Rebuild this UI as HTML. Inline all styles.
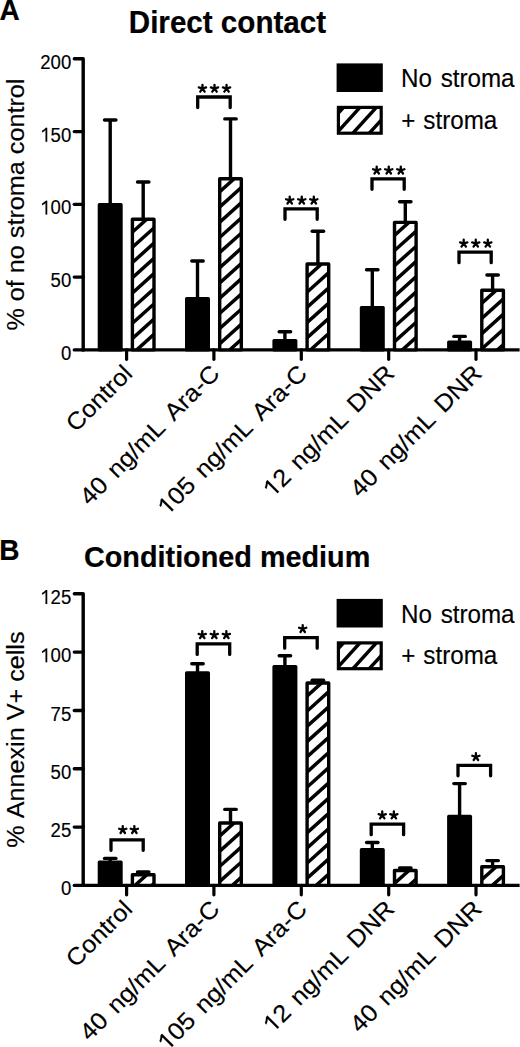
<!DOCTYPE html>
<html><head><meta charset="utf-8"><style>
html,body{margin:0;padding:0;background:#fff;width:520px;height:1047px;overflow:hidden}
svg{display:block}
text{font-family:"Liberation Sans",sans-serif;font-kerning:none;white-space:pre}
.t{stroke:#000;stroke-width:0.15px}
.tb{stroke:#000;stroke-width:0.2px}
</style></head><body>
<svg width="520" height="1047" viewBox="0 0 520 1047" fill="#000">
<rect width="520" height="1047" fill="#fff"/>
<text class="tb" x="-0.4" y="19.6" font-size="28" font-weight="bold" transform="translate(0 19.6) scale(1 1.05) translate(0 -19.6)">A</text>
<text class="tb" x="-0.7" y="559.8" font-size="28" font-weight="bold" transform="translate(0 559.8) scale(1 1.04) translate(0 -559.8)">B</text>
<text class="tb" x="128.8" y="32.7" font-size="29.6" font-weight="bold" transform="translate(0 32.7) scale(1 1.03) translate(0 -32.7)">Direct contact</text>
<text class="tb" x="84.0" y="567.3" font-size="28.8" font-weight="bold" transform="translate(0 567.3) scale(1 1.05) translate(0 -567.3)">Conditioned medium</text>
<g stroke="#000" fill="none" stroke-width="3.2">
<path d="M74.3,58.80 L83.2,58.80 L83.2,349.90" stroke-width="3.4" stroke-linejoin="round" stroke-linecap="round"/>
<line x1="81.6" y1="349.90" x2="519.6" y2="349.90" stroke-width="3.4"/>
<line x1="74.3" y1="349.90" x2="83.2" y2="349.90" stroke-width="3.4" stroke-linecap="round"/>
<line x1="74.3" y1="277.12" x2="83.2" y2="277.12" stroke-width="3.4" stroke-linecap="round"/>
<line x1="74.3" y1="204.35" x2="83.2" y2="204.35" stroke-width="3.4" stroke-linecap="round"/>
<line x1="74.3" y1="131.58" x2="83.2" y2="131.58" stroke-width="3.4" stroke-linecap="round"/>
<line x1="126.60" y1="349.90" x2="126.60" y2="359.30" stroke-width="3.2" stroke-linecap="round"/>
<line x1="213.90" y1="349.90" x2="213.90" y2="359.30" stroke-width="3.2" stroke-linecap="round"/>
<line x1="301.30" y1="349.90" x2="301.30" y2="359.30" stroke-width="3.2" stroke-linecap="round"/>
<line x1="388.70" y1="349.90" x2="388.70" y2="359.30" stroke-width="3.2" stroke-linecap="round"/>
<line x1="476.00" y1="349.90" x2="476.00" y2="359.30" stroke-width="3.2" stroke-linecap="round"/>
</g>
<g transform="translate(0 360.00) scale(1 1.08) translate(0 -360.00)"><text x="60.96" y="360.00" font-size="18.6" class="t">0</text></g>
<g transform="translate(0 287.23) scale(1 1.08) translate(0 -287.23)"><text x="50.61" y="287.23" font-size="18.6" class="t">50</text></g>
<g transform="translate(0 214.45) scale(1 1.08) translate(0 -214.45)"><text x="40.27" y="214.45" font-size="18.6" class="t"> 00</text><path d="M583,0 L583,1180 C520,1118 420,1050 300,990 C260,970 225,957 197,948 L197,1110 C330,1170 430,1240 510,1320 C560,1368 595,1400 615,1409 L763,1409 L763,0 Z" transform="translate(40.27 214.45) scale(0.00908 -0.00908)" stroke="#000" stroke-width="16.516"/></g>
<g transform="translate(0 141.68) scale(1 1.08) translate(0 -141.68)"><text x="40.27" y="141.68" font-size="18.6" class="t"> 50</text><path d="M583,0 L583,1180 C520,1118 420,1050 300,990 C260,970 225,957 197,948 L197,1110 C330,1170 430,1240 510,1320 C560,1368 595,1400 615,1409 L763,1409 L763,0 Z" transform="translate(40.27 141.68) scale(0.00908 -0.00908)" stroke="#000" stroke-width="16.516"/></g>
<g transform="translate(0 68.90) scale(1 1.08) translate(0 -68.90)"><text x="40.27" y="68.90" font-size="18.6" class="t">200</text></g>
<g stroke="#000" stroke-width="3.4" stroke-linecap="round" fill="none">
<line x1="110.20" y1="204.10" x2="110.20" y2="120.00" stroke-linecap="butt"/>
<line x1="104.50" y1="120.00" x2="115.90" y2="120.00"/>
<line x1="143.20" y1="218.50" x2="143.20" y2="182.00" stroke-linecap="butt"/>
<line x1="137.50" y1="182.00" x2="148.90" y2="182.00"/>
</g>
<rect x="99.30" y="204.70" width="21.80" height="145.20" fill="#000" stroke="#000" stroke-width="3.2" stroke-linejoin="round"/>
<rect x="132.30" y="219.10" width="21.80" height="130.80" fill="#fff"/>
<clipPath id="ca0"><rect x="132.30" y="219.10" width="21.80" height="130.80"/></clipPath><g clip-path="url(#ca0)" stroke="#000" stroke-width="3.5" fill="none"><line x1="129.30" y1="189.34" x2="157.10" y2="164.32"/><line x1="129.30" y1="204.54" x2="157.10" y2="179.52"/><line x1="129.30" y1="219.74" x2="157.10" y2="194.72"/><line x1="129.30" y1="234.94" x2="157.10" y2="209.92"/><line x1="129.30" y1="250.14" x2="157.10" y2="225.12"/><line x1="129.30" y1="265.34" x2="157.10" y2="240.32"/><line x1="129.30" y1="280.54" x2="157.10" y2="255.52"/><line x1="129.30" y1="295.74" x2="157.10" y2="270.72"/><line x1="129.30" y1="310.94" x2="157.10" y2="285.92"/><line x1="129.30" y1="326.14" x2="157.10" y2="301.12"/><line x1="129.30" y1="341.34" x2="157.10" y2="316.32"/><line x1="129.30" y1="356.54" x2="157.10" y2="331.52"/><line x1="129.30" y1="371.74" x2="157.10" y2="346.72"/></g>
<rect x="132.40" y="219.20" width="21.60" height="130.70" fill="none" stroke="#000" stroke-width="3.4" stroke-linejoin="round"/>
<g stroke="#000" stroke-width="3.4" stroke-linecap="round" fill="none">
<line x1="197.50" y1="298.10" x2="197.50" y2="261.00" stroke-linecap="butt"/>
<line x1="191.80" y1="261.00" x2="203.20" y2="261.00"/>
<line x1="230.50" y1="178.10" x2="230.50" y2="118.90" stroke-linecap="butt"/>
<line x1="224.80" y1="118.90" x2="236.20" y2="118.90"/>
</g>
<rect x="186.60" y="298.70" width="21.80" height="51.20" fill="#000" stroke="#000" stroke-width="3.2" stroke-linejoin="round"/>
<rect x="219.60" y="178.70" width="21.80" height="171.20" fill="#fff"/>
<clipPath id="ca1"><rect x="219.60" y="178.70" width="21.80" height="171.20"/></clipPath><g clip-path="url(#ca1)" stroke="#000" stroke-width="3.5" fill="none"><line x1="216.60" y1="148.94" x2="244.40" y2="123.92"/><line x1="216.60" y1="164.14" x2="244.40" y2="139.12"/><line x1="216.60" y1="179.34" x2="244.40" y2="154.32"/><line x1="216.60" y1="194.54" x2="244.40" y2="169.52"/><line x1="216.60" y1="209.74" x2="244.40" y2="184.72"/><line x1="216.60" y1="224.94" x2="244.40" y2="199.92"/><line x1="216.60" y1="240.14" x2="244.40" y2="215.12"/><line x1="216.60" y1="255.34" x2="244.40" y2="230.32"/><line x1="216.60" y1="270.54" x2="244.40" y2="245.52"/><line x1="216.60" y1="285.74" x2="244.40" y2="260.72"/><line x1="216.60" y1="300.94" x2="244.40" y2="275.92"/><line x1="216.60" y1="316.14" x2="244.40" y2="291.12"/><line x1="216.60" y1="331.34" x2="244.40" y2="306.32"/><line x1="216.60" y1="346.54" x2="244.40" y2="321.52"/><line x1="216.60" y1="361.74" x2="244.40" y2="336.72"/><line x1="216.60" y1="376.94" x2="244.40" y2="351.92"/></g>
<rect x="219.70" y="178.80" width="21.60" height="171.10" fill="none" stroke="#000" stroke-width="3.4" stroke-linejoin="round"/>
<g stroke="#000" stroke-width="3.4" stroke-linecap="round" fill="none">
<line x1="284.90" y1="339.90" x2="284.90" y2="331.70" stroke-linecap="butt"/>
<line x1="279.20" y1="331.70" x2="290.60" y2="331.70"/>
<line x1="317.90" y1="263.30" x2="317.90" y2="231.20" stroke-linecap="butt"/>
<line x1="312.20" y1="231.20" x2="323.60" y2="231.20"/>
</g>
<rect x="274.00" y="340.50" width="21.80" height="9.40" fill="#000" stroke="#000" stroke-width="3.2" stroke-linejoin="round"/>
<rect x="307.00" y="263.90" width="21.80" height="86.00" fill="#fff"/>
<clipPath id="ca2"><rect x="307.00" y="263.90" width="21.80" height="86.00"/></clipPath><g clip-path="url(#ca2)" stroke="#000" stroke-width="3.5" fill="none"><line x1="304.00" y1="234.14" x2="331.80" y2="209.12"/><line x1="304.00" y1="249.34" x2="331.80" y2="224.32"/><line x1="304.00" y1="264.54" x2="331.80" y2="239.52"/><line x1="304.00" y1="279.74" x2="331.80" y2="254.72"/><line x1="304.00" y1="294.94" x2="331.80" y2="269.92"/><line x1="304.00" y1="310.14" x2="331.80" y2="285.12"/><line x1="304.00" y1="325.34" x2="331.80" y2="300.32"/><line x1="304.00" y1="340.54" x2="331.80" y2="315.52"/><line x1="304.00" y1="355.74" x2="331.80" y2="330.72"/><line x1="304.00" y1="370.94" x2="331.80" y2="345.92"/></g>
<rect x="307.10" y="264.00" width="21.60" height="85.90" fill="none" stroke="#000" stroke-width="3.4" stroke-linejoin="round"/>
<g stroke="#000" stroke-width="3.4" stroke-linecap="round" fill="none">
<line x1="372.30" y1="306.90" x2="372.30" y2="269.70" stroke-linecap="butt"/>
<line x1="366.60" y1="269.70" x2="378.00" y2="269.70"/>
<line x1="405.30" y1="221.70" x2="405.30" y2="201.70" stroke-linecap="butt"/>
<line x1="399.60" y1="201.70" x2="411.00" y2="201.70"/>
</g>
<rect x="361.40" y="307.50" width="21.80" height="42.40" fill="#000" stroke="#000" stroke-width="3.2" stroke-linejoin="round"/>
<rect x="394.40" y="222.30" width="21.80" height="127.60" fill="#fff"/>
<clipPath id="ca3"><rect x="394.40" y="222.30" width="21.80" height="127.60"/></clipPath><g clip-path="url(#ca3)" stroke="#000" stroke-width="3.5" fill="none"><line x1="391.40" y1="192.54" x2="419.20" y2="167.52"/><line x1="391.40" y1="207.74" x2="419.20" y2="182.72"/><line x1="391.40" y1="222.94" x2="419.20" y2="197.92"/><line x1="391.40" y1="238.14" x2="419.20" y2="213.12"/><line x1="391.40" y1="253.34" x2="419.20" y2="228.32"/><line x1="391.40" y1="268.54" x2="419.20" y2="243.52"/><line x1="391.40" y1="283.74" x2="419.20" y2="258.72"/><line x1="391.40" y1="298.94" x2="419.20" y2="273.92"/><line x1="391.40" y1="314.14" x2="419.20" y2="289.12"/><line x1="391.40" y1="329.34" x2="419.20" y2="304.32"/><line x1="391.40" y1="344.54" x2="419.20" y2="319.52"/><line x1="391.40" y1="359.74" x2="419.20" y2="334.72"/><line x1="391.40" y1="374.94" x2="419.20" y2="349.92"/></g>
<rect x="394.50" y="222.40" width="21.60" height="127.50" fill="none" stroke="#000" stroke-width="3.4" stroke-linejoin="round"/>
<g stroke="#000" stroke-width="3.4" stroke-linecap="round" fill="none">
<line x1="459.60" y1="341.40" x2="459.60" y2="336.40" stroke-linecap="butt"/>
<line x1="453.90" y1="336.40" x2="465.30" y2="336.40"/>
<line x1="492.60" y1="289.60" x2="492.60" y2="275.00" stroke-linecap="butt"/>
<line x1="486.90" y1="275.00" x2="498.30" y2="275.00"/>
</g>
<rect x="448.70" y="342.00" width="21.80" height="7.90" fill="#000" stroke="#000" stroke-width="3.2" stroke-linejoin="round"/>
<rect x="481.70" y="290.20" width="21.80" height="59.70" fill="#fff"/>
<clipPath id="ca4"><rect x="481.70" y="290.20" width="21.80" height="59.70"/></clipPath><g clip-path="url(#ca4)" stroke="#000" stroke-width="3.5" fill="none"><line x1="478.70" y1="260.44" x2="506.50" y2="235.42"/><line x1="478.70" y1="275.64" x2="506.50" y2="250.62"/><line x1="478.70" y1="290.84" x2="506.50" y2="265.82"/><line x1="478.70" y1="306.04" x2="506.50" y2="281.02"/><line x1="478.70" y1="321.24" x2="506.50" y2="296.22"/><line x1="478.70" y1="336.44" x2="506.50" y2="311.42"/><line x1="478.70" y1="351.64" x2="506.50" y2="326.62"/><line x1="478.70" y1="366.84" x2="506.50" y2="341.82"/></g>
<rect x="481.80" y="290.30" width="21.60" height="59.60" fill="none" stroke="#000" stroke-width="3.4" stroke-linejoin="round"/>
<path d="M197.70,107.50 L197.70,97.00 L230.20,97.00 L230.20,107.50" fill="none" stroke="#000" stroke-width="3.3" stroke-linecap="round" stroke-linejoin="miter"/>
<path d="M202.45,88.60L202.45,84.80M202.45,88.60L198.84,87.43M202.45,88.60L200.22,91.67M202.45,88.60L204.68,91.67M202.45,88.60L206.06,87.43" stroke="#000" stroke-width="2.3" stroke-linecap="round" fill="none"/>
<path d="M214.50,88.60L214.50,84.80M214.50,88.60L210.89,87.43M214.50,88.60L212.27,91.67M214.50,88.60L216.73,91.67M214.50,88.60L218.11,87.43" stroke="#000" stroke-width="2.3" stroke-linecap="round" fill="none"/>
<path d="M226.55,88.60L226.55,84.80M226.55,88.60L222.94,87.43M226.55,88.60L224.32,91.67M226.55,88.60L228.78,91.67M226.55,88.60L230.16,87.43" stroke="#000" stroke-width="2.3" stroke-linecap="round" fill="none"/>
<path d="M285.00,219.30 L285.00,208.80 L317.20,208.80 L317.20,219.30" fill="none" stroke="#000" stroke-width="3.3" stroke-linecap="round" stroke-linejoin="miter"/>
<path d="M289.70,200.40L289.70,196.60M289.70,200.40L286.09,199.23M289.70,200.40L287.47,203.47M289.70,200.40L291.93,203.47M289.70,200.40L293.31,199.23" stroke="#000" stroke-width="2.3" stroke-linecap="round" fill="none"/>
<path d="M301.75,200.40L301.75,196.60M301.75,200.40L298.14,199.23M301.75,200.40L299.52,203.47M301.75,200.40L303.98,203.47M301.75,200.40L305.36,199.23" stroke="#000" stroke-width="2.3" stroke-linecap="round" fill="none"/>
<path d="M313.80,200.40L313.80,196.60M313.80,200.40L310.19,199.23M313.80,200.40L311.57,203.47M313.80,200.40L316.03,203.47M313.80,200.40L317.41,199.23" stroke="#000" stroke-width="2.3" stroke-linecap="round" fill="none"/>
<path d="M372.00,189.30 L372.00,178.80 L404.20,178.80 L404.20,189.30" fill="none" stroke="#000" stroke-width="3.3" stroke-linecap="round" stroke-linejoin="miter"/>
<path d="M376.70,170.40L376.70,166.60M376.70,170.40L373.09,169.23M376.70,170.40L374.47,173.47M376.70,170.40L378.93,173.47M376.70,170.40L380.31,169.23" stroke="#000" stroke-width="2.3" stroke-linecap="round" fill="none"/>
<path d="M388.75,170.40L388.75,166.60M388.75,170.40L385.14,169.23M388.75,170.40L386.52,173.47M388.75,170.40L390.98,173.47M388.75,170.40L392.36,169.23" stroke="#000" stroke-width="2.3" stroke-linecap="round" fill="none"/>
<path d="M400.80,170.40L400.80,166.60M400.80,170.40L397.19,169.23M400.80,170.40L398.57,173.47M400.80,170.40L403.03,173.47M400.80,170.40L404.41,169.23" stroke="#000" stroke-width="2.3" stroke-linecap="round" fill="none"/>
<path d="M459.00,262.70 L459.00,252.20 L491.20,252.20 L491.20,262.70" fill="none" stroke="#000" stroke-width="3.3" stroke-linecap="round" stroke-linejoin="miter"/>
<path d="M463.70,243.50L463.70,239.70M463.70,243.50L460.09,242.33M463.70,243.50L461.47,246.57M463.70,243.50L465.93,246.57M463.70,243.50L467.31,242.33" stroke="#000" stroke-width="2.3" stroke-linecap="round" fill="none"/>
<path d="M475.75,243.50L475.75,239.70M475.75,243.50L472.14,242.33M475.75,243.50L473.52,246.57M475.75,243.50L477.98,246.57M475.75,243.50L479.36,242.33" stroke="#000" stroke-width="2.3" stroke-linecap="round" fill="none"/>
<path d="M487.80,243.50L487.80,239.70M487.80,243.50L484.19,242.33M487.80,243.50L485.57,246.57M487.80,243.50L490.03,246.57M487.80,243.50L491.41,242.33" stroke="#000" stroke-width="2.3" stroke-linecap="round" fill="none"/>
<g transform="translate(133.80 375.00) rotate(-45) scale(1.0625 1)"><text x="-77.37" y="0.00" font-size="24.0" word-spacing="2.823529411764706" class="t">Control</text></g>
<g transform="translate(221.10 375.00) rotate(-45) scale(1.0625 1)"><text x="-175.05" y="0.00" font-size="24.0" word-spacing="2.823529411764706" class="t">40 ng/mL Ara-C</text></g>
<g transform="translate(308.50 375.00) rotate(-45) scale(1.0625 1)"><text x="-188.40" y="0.00" font-size="24.0" word-spacing="2.823529411764706" class="t"> 05 ng/mL Ara-C</text><path d="M583,0 L583,1180 C520,1118 420,1050 300,990 C260,970 225,957 197,948 L197,1110 C330,1170 430,1240 510,1320 C560,1368 595,1400 615,1409 L763,1409 L763,0 Z" transform="translate(-188.40 0.00) scale(0.01172 -0.01172)" stroke="#000" stroke-width="12.800"/></g>
<g transform="translate(395.90 375.00) rotate(-45) scale(1.0625 1)"><text x="-164.38" y="0.00" font-size="24.0" word-spacing="2.823529411764706" class="t"> 2 ng/mL DNR</text><path d="M583,0 L583,1180 C520,1118 420,1050 300,990 C260,970 225,957 197,948 L197,1110 C330,1170 430,1240 510,1320 C560,1368 595,1400 615,1409 L763,1409 L763,0 Z" transform="translate(-164.38 0.00) scale(0.01172 -0.01172)" stroke="#000" stroke-width="12.800"/></g>
<g transform="translate(483.20 375.00) rotate(-45) scale(1.0625 1)"><text x="-164.38" y="0.00" font-size="24.0" word-spacing="2.823529411764706" class="t">40 ng/mL DNR</text></g>
<rect x="336.6" y="63.40" width="46.2" height="28.6" fill="#000"/>
<rect x="338.40000000000003" y="107.40" width="42.80" height="25.80" fill="#fff"/>
<clipPath id="lga"><rect x="338.40000000000003" y="107.40" width="42.80" height="25.80"/></clipPath>
<g clip-path="url(#lga)" stroke="#000" stroke-width="3.45">
<line x1="330.50" y1="103.70" x2="285.50" y2="153.20"/>
<line x1="346.90" y1="103.70" x2="301.90" y2="153.20"/>
<line x1="363.30" y1="103.70" x2="318.30" y2="153.20"/>
<line x1="379.70" y1="103.70" x2="334.70" y2="153.20"/>
<line x1="396.10" y1="103.70" x2="351.10" y2="153.20"/>
<line x1="412.50" y1="103.70" x2="367.50" y2="153.20"/>
</g>
<rect x="338.40000000000003" y="107.40" width="42.80" height="25.80" fill="none" stroke="#000" stroke-width="3.2"/>
<text class="t" x="401.0" y="87.40" font-size="24.2" word-spacing="2.0" transform="translate(0 87.40) scale(1 1.06) translate(0 -87.40)">No stroma</text>
<text class="t" x="401.3" y="128.90" font-size="24.2" word-spacing="1.2" transform="translate(0 128.90) scale(1 1.06) translate(0 -128.90)">+ stroma</text>
<text class="t" transform="translate(24.0 204.60) rotate(-90) scale(1.05 1)" font-size="24" text-anchor="middle">% of no stroma control</text>
<g stroke="#000" fill="none" stroke-width="3.2">
<path d="M74.3,593.80 L83.2,593.80 L83.2,885.40" stroke-width="3.4" stroke-linejoin="round" stroke-linecap="round"/>
<line x1="81.6" y1="885.40" x2="519.6" y2="885.40" stroke-width="3.4"/>
<line x1="74.3" y1="885.40" x2="83.2" y2="885.40" stroke-width="3.4" stroke-linecap="round"/>
<line x1="74.3" y1="827.08" x2="83.2" y2="827.08" stroke-width="3.4" stroke-linecap="round"/>
<line x1="74.3" y1="768.76" x2="83.2" y2="768.76" stroke-width="3.4" stroke-linecap="round"/>
<line x1="74.3" y1="710.44" x2="83.2" y2="710.44" stroke-width="3.4" stroke-linecap="round"/>
<line x1="74.3" y1="652.12" x2="83.2" y2="652.12" stroke-width="3.4" stroke-linecap="round"/>
<line x1="126.60" y1="885.40" x2="126.60" y2="894.80" stroke-width="3.2" stroke-linecap="round"/>
<line x1="213.90" y1="885.40" x2="213.90" y2="894.80" stroke-width="3.2" stroke-linecap="round"/>
<line x1="301.30" y1="885.40" x2="301.30" y2="894.80" stroke-width="3.2" stroke-linecap="round"/>
<line x1="388.70" y1="885.40" x2="388.70" y2="894.80" stroke-width="3.2" stroke-linecap="round"/>
<line x1="476.00" y1="885.40" x2="476.00" y2="894.80" stroke-width="3.2" stroke-linecap="round"/>
</g>
<g transform="translate(0 895.50) scale(1 1.08) translate(0 -895.50)"><text x="60.96" y="895.50" font-size="18.6" class="t">0</text></g>
<g transform="translate(0 837.18) scale(1 1.08) translate(0 -837.18)"><text x="50.61" y="837.18" font-size="18.6" class="t">25</text></g>
<g transform="translate(0 778.86) scale(1 1.08) translate(0 -778.86)"><text x="50.61" y="778.86" font-size="18.6" class="t">50</text></g>
<g transform="translate(0 720.54) scale(1 1.08) translate(0 -720.54)"><text x="50.61" y="720.54" font-size="18.6" class="t">75</text></g>
<g transform="translate(0 662.22) scale(1 1.08) translate(0 -662.22)"><text x="40.27" y="662.22" font-size="18.6" class="t"> 00</text><path d="M583,0 L583,1180 C520,1118 420,1050 300,990 C260,970 225,957 197,948 L197,1110 C330,1170 430,1240 510,1320 C560,1368 595,1400 615,1409 L763,1409 L763,0 Z" transform="translate(40.27 662.22) scale(0.00908 -0.00908)" stroke="#000" stroke-width="16.516"/></g>
<g transform="translate(0 603.90) scale(1 1.08) translate(0 -603.90)"><text x="40.27" y="603.90" font-size="18.6" class="t"> 25</text><path d="M583,0 L583,1180 C520,1118 420,1050 300,990 C260,970 225,957 197,948 L197,1110 C330,1170 430,1240 510,1320 C560,1368 595,1400 615,1409 L763,1409 L763,0 Z" transform="translate(40.27 603.90) scale(0.00908 -0.00908)" stroke="#000" stroke-width="16.516"/></g>
<g stroke="#000" stroke-width="3.4" stroke-linecap="round" fill="none">
<line x1="110.20" y1="861.60" x2="110.20" y2="858.40" stroke-linecap="butt"/>
<line x1="104.50" y1="858.40" x2="115.90" y2="858.40"/>
<line x1="143.20" y1="874.10" x2="143.20" y2="872.00" stroke-linecap="butt"/>
<line x1="137.50" y1="872.00" x2="148.90" y2="872.00"/>
</g>
<rect x="99.30" y="862.20" width="21.80" height="23.20" fill="#000" stroke="#000" stroke-width="3.2" stroke-linejoin="round"/>
<rect x="132.30" y="874.70" width="21.80" height="10.70" fill="#fff"/>
<clipPath id="cb0"><rect x="132.30" y="874.70" width="21.80" height="10.70"/></clipPath><g clip-path="url(#cb0)" stroke="#000" stroke-width="3.5" fill="none"><line x1="129.30" y1="844.94" x2="157.10" y2="819.92"/><line x1="129.30" y1="860.14" x2="157.10" y2="835.12"/><line x1="129.30" y1="875.34" x2="157.10" y2="850.32"/><line x1="129.30" y1="890.54" x2="157.10" y2="865.52"/><line x1="129.30" y1="905.74" x2="157.10" y2="880.72"/></g>
<rect x="132.40" y="874.80" width="21.60" height="10.60" fill="none" stroke="#000" stroke-width="3.4" stroke-linejoin="round"/>
<g stroke="#000" stroke-width="3.4" stroke-linecap="round" fill="none">
<line x1="197.50" y1="672.30" x2="197.50" y2="663.80" stroke-linecap="butt"/>
<line x1="191.80" y1="663.80" x2="203.20" y2="663.80"/>
<line x1="230.50" y1="822.30" x2="230.50" y2="809.40" stroke-linecap="butt"/>
<line x1="224.80" y1="809.40" x2="236.20" y2="809.40"/>
</g>
<rect x="186.60" y="672.90" width="21.80" height="212.50" fill="#000" stroke="#000" stroke-width="3.2" stroke-linejoin="round"/>
<rect x="219.60" y="822.90" width="21.80" height="62.50" fill="#fff"/>
<clipPath id="cb1"><rect x="219.60" y="822.90" width="21.80" height="62.50"/></clipPath><g clip-path="url(#cb1)" stroke="#000" stroke-width="3.5" fill="none"><line x1="216.60" y1="793.14" x2="244.40" y2="768.12"/><line x1="216.60" y1="808.34" x2="244.40" y2="783.32"/><line x1="216.60" y1="823.54" x2="244.40" y2="798.52"/><line x1="216.60" y1="838.74" x2="244.40" y2="813.72"/><line x1="216.60" y1="853.94" x2="244.40" y2="828.92"/><line x1="216.60" y1="869.14" x2="244.40" y2="844.12"/><line x1="216.60" y1="884.34" x2="244.40" y2="859.32"/><line x1="216.60" y1="899.54" x2="244.40" y2="874.52"/></g>
<rect x="219.70" y="823.00" width="21.60" height="62.40" fill="none" stroke="#000" stroke-width="3.4" stroke-linejoin="round"/>
<g stroke="#000" stroke-width="3.4" stroke-linecap="round" fill="none">
<line x1="284.90" y1="666.00" x2="284.90" y2="655.70" stroke-linecap="butt"/>
<line x1="279.20" y1="655.70" x2="290.60" y2="655.70"/>
<line x1="317.90" y1="682.30" x2="317.90" y2="680.30" stroke-linecap="butt"/>
<line x1="312.20" y1="680.30" x2="323.60" y2="680.30"/>
</g>
<rect x="274.00" y="666.60" width="21.80" height="218.80" fill="#000" stroke="#000" stroke-width="3.2" stroke-linejoin="round"/>
<rect x="307.00" y="682.90" width="21.80" height="202.50" fill="#fff"/>
<clipPath id="cb2"><rect x="307.00" y="682.90" width="21.80" height="202.50"/></clipPath><g clip-path="url(#cb2)" stroke="#000" stroke-width="3.5" fill="none"><line x1="304.00" y1="653.14" x2="331.80" y2="628.12"/><line x1="304.00" y1="668.34" x2="331.80" y2="643.32"/><line x1="304.00" y1="683.54" x2="331.80" y2="658.52"/><line x1="304.00" y1="698.74" x2="331.80" y2="673.72"/><line x1="304.00" y1="713.94" x2="331.80" y2="688.92"/><line x1="304.00" y1="729.14" x2="331.80" y2="704.12"/><line x1="304.00" y1="744.34" x2="331.80" y2="719.32"/><line x1="304.00" y1="759.54" x2="331.80" y2="734.52"/><line x1="304.00" y1="774.74" x2="331.80" y2="749.72"/><line x1="304.00" y1="789.94" x2="331.80" y2="764.92"/><line x1="304.00" y1="805.14" x2="331.80" y2="780.12"/><line x1="304.00" y1="820.34" x2="331.80" y2="795.32"/><line x1="304.00" y1="835.54" x2="331.80" y2="810.52"/><line x1="304.00" y1="850.74" x2="331.80" y2="825.72"/><line x1="304.00" y1="865.94" x2="331.80" y2="840.92"/><line x1="304.00" y1="881.14" x2="331.80" y2="856.12"/><line x1="304.00" y1="896.34" x2="331.80" y2="871.32"/><line x1="304.00" y1="911.54" x2="331.80" y2="886.52"/></g>
<rect x="307.10" y="683.00" width="21.60" height="202.40" fill="none" stroke="#000" stroke-width="3.4" stroke-linejoin="round"/>
<g stroke="#000" stroke-width="3.4" stroke-linecap="round" fill="none">
<line x1="372.30" y1="849.10" x2="372.30" y2="842.50" stroke-linecap="butt"/>
<line x1="366.60" y1="842.50" x2="378.00" y2="842.50"/>
<line x1="405.30" y1="869.80" x2="405.30" y2="868.00" stroke-linecap="butt"/>
<line x1="399.60" y1="868.00" x2="411.00" y2="868.00"/>
</g>
<rect x="361.40" y="849.70" width="21.80" height="35.70" fill="#000" stroke="#000" stroke-width="3.2" stroke-linejoin="round"/>
<rect x="394.40" y="870.40" width="21.80" height="15.00" fill="#fff"/>
<clipPath id="cb3"><rect x="394.40" y="870.40" width="21.80" height="15.00"/></clipPath><g clip-path="url(#cb3)" stroke="#000" stroke-width="3.5" fill="none"><line x1="391.40" y1="840.64" x2="419.20" y2="815.62"/><line x1="391.40" y1="855.84" x2="419.20" y2="830.82"/><line x1="391.40" y1="871.04" x2="419.20" y2="846.02"/><line x1="391.40" y1="886.24" x2="419.20" y2="861.22"/><line x1="391.40" y1="901.44" x2="419.20" y2="876.42"/></g>
<rect x="394.50" y="870.50" width="21.60" height="14.90" fill="none" stroke="#000" stroke-width="3.4" stroke-linejoin="round"/>
<g stroke="#000" stroke-width="3.4" stroke-linecap="round" fill="none">
<line x1="459.60" y1="815.80" x2="459.60" y2="783.60" stroke-linecap="butt"/>
<line x1="453.90" y1="783.60" x2="465.30" y2="783.60"/>
<line x1="492.60" y1="866.00" x2="492.60" y2="860.60" stroke-linecap="butt"/>
<line x1="486.90" y1="860.60" x2="498.30" y2="860.60"/>
</g>
<rect x="448.70" y="816.40" width="21.80" height="69.00" fill="#000" stroke="#000" stroke-width="3.2" stroke-linejoin="round"/>
<rect x="481.70" y="866.60" width="21.80" height="18.80" fill="#fff"/>
<clipPath id="cb4"><rect x="481.70" y="866.60" width="21.80" height="18.80"/></clipPath><g clip-path="url(#cb4)" stroke="#000" stroke-width="3.5" fill="none"><line x1="478.70" y1="836.84" x2="506.50" y2="811.82"/><line x1="478.70" y1="852.04" x2="506.50" y2="827.02"/><line x1="478.70" y1="867.24" x2="506.50" y2="842.22"/><line x1="478.70" y1="882.44" x2="506.50" y2="857.42"/><line x1="478.70" y1="897.64" x2="506.50" y2="872.62"/></g>
<rect x="481.80" y="866.70" width="21.60" height="18.70" fill="none" stroke="#000" stroke-width="3.4" stroke-linejoin="round"/>
<path d="M111.00,850.30 L111.00,839.80 L143.20,839.80 L143.20,850.30" fill="none" stroke="#000" stroke-width="3.3" stroke-linecap="round" stroke-linejoin="miter"/>
<path d="M122.75,829.90L122.75,826.10M122.75,829.90L119.14,828.73M122.75,829.90L120.52,832.97M122.75,829.90L124.98,832.97M122.75,829.90L126.36,828.73" stroke="#000" stroke-width="2.3" stroke-linecap="round" fill="none"/>
<path d="M134.35,829.90L134.35,826.10M134.35,829.90L130.74,828.73M134.35,829.90L132.12,832.97M134.35,829.90L136.58,832.97M134.35,829.90L137.96,828.73" stroke="#000" stroke-width="2.3" stroke-linecap="round" fill="none"/>
<path d="M197.20,654.40 L197.20,643.90 L229.70,643.90 L229.70,654.40" fill="none" stroke="#000" stroke-width="3.3" stroke-linecap="round" stroke-linejoin="miter"/>
<path d="M202.25,635.00L202.25,631.20M202.25,635.00L198.64,633.83M202.25,635.00L200.02,638.07M202.25,635.00L204.48,638.07M202.25,635.00L205.86,633.83" stroke="#000" stroke-width="2.3" stroke-linecap="round" fill="none"/>
<path d="M214.30,635.00L214.30,631.20M214.30,635.00L210.69,633.83M214.30,635.00L212.07,638.07M214.30,635.00L216.53,638.07M214.30,635.00L217.91,633.83" stroke="#000" stroke-width="2.3" stroke-linecap="round" fill="none"/>
<path d="M226.35,635.00L226.35,631.20M226.35,635.00L222.74,633.83M226.35,635.00L224.12,638.07M226.35,635.00L228.58,638.07M226.35,635.00L229.96,633.83" stroke="#000" stroke-width="2.3" stroke-linecap="round" fill="none"/>
<path d="M284.70,648.20 L284.70,637.70 L317.20,637.70 L317.20,648.20" fill="none" stroke="#000" stroke-width="3.3" stroke-linecap="round" stroke-linejoin="miter"/>
<path d="M302.70,628.90L302.70,625.10M302.70,628.90L299.09,627.73M302.70,628.90L300.47,631.97M302.70,628.90L304.93,631.97M302.70,628.90L306.31,627.73" stroke="#000" stroke-width="2.3" stroke-linecap="round" fill="none"/>
<path d="M371.20,834.70 L371.20,824.20 L403.60,824.20 L403.60,834.70" fill="none" stroke="#000" stroke-width="3.3" stroke-linecap="round" stroke-linejoin="miter"/>
<path d="M382.25,815.30L382.25,811.50M382.25,815.30L378.64,814.13M382.25,815.30L380.02,818.37M382.25,815.30L384.48,818.37M382.25,815.30L385.86,814.13" stroke="#000" stroke-width="2.3" stroke-linecap="round" fill="none"/>
<path d="M393.85,815.30L393.85,811.50M393.85,815.30L390.24,814.13M393.85,815.30L391.62,818.37M393.85,815.30L396.08,818.37M393.85,815.30L397.46,814.13" stroke="#000" stroke-width="2.3" stroke-linecap="round" fill="none"/>
<path d="M458.00,775.80 L458.00,765.30 L490.60,765.30 L490.60,775.80" fill="none" stroke="#000" stroke-width="3.3" stroke-linecap="round" stroke-linejoin="miter"/>
<path d="M475.90,756.90L475.90,753.10M475.90,756.90L472.29,755.73M475.90,756.90L473.67,759.97M475.90,756.90L478.13,759.97M475.90,756.90L479.51,755.73" stroke="#000" stroke-width="2.3" stroke-linecap="round" fill="none"/>
<g transform="translate(133.80 910.50) rotate(-45) scale(1.0625 1)"><text x="-77.37" y="0.00" font-size="24.0" word-spacing="2.823529411764706" class="t">Control</text></g>
<g transform="translate(221.10 910.50) rotate(-45) scale(1.0625 1)"><text x="-175.05" y="0.00" font-size="24.0" word-spacing="2.823529411764706" class="t">40 ng/mL Ara-C</text></g>
<g transform="translate(308.50 910.50) rotate(-45) scale(1.0625 1)"><text x="-188.40" y="0.00" font-size="24.0" word-spacing="2.823529411764706" class="t"> 05 ng/mL Ara-C</text><path d="M583,0 L583,1180 C520,1118 420,1050 300,990 C260,970 225,957 197,948 L197,1110 C330,1170 430,1240 510,1320 C560,1368 595,1400 615,1409 L763,1409 L763,0 Z" transform="translate(-188.40 0.00) scale(0.01172 -0.01172)" stroke="#000" stroke-width="12.800"/></g>
<g transform="translate(395.90 910.50) rotate(-45) scale(1.0625 1)"><text x="-164.38" y="0.00" font-size="24.0" word-spacing="2.823529411764706" class="t"> 2 ng/mL DNR</text><path d="M583,0 L583,1180 C520,1118 420,1050 300,990 C260,970 225,957 197,948 L197,1110 C330,1170 430,1240 510,1320 C560,1368 595,1400 615,1409 L763,1409 L763,0 Z" transform="translate(-164.38 0.00) scale(0.01172 -0.01172)" stroke="#000" stroke-width="12.800"/></g>
<g transform="translate(483.20 910.50) rotate(-45) scale(1.0625 1)"><text x="-164.38" y="0.00" font-size="24.0" word-spacing="2.823529411764706" class="t">40 ng/mL DNR</text></g>
<rect x="336.6" y="598.90" width="46.2" height="28.6" fill="#000"/>
<rect x="338.40000000000003" y="642.90" width="42.80" height="25.80" fill="#fff"/>
<clipPath id="lgb"><rect x="338.40000000000003" y="642.90" width="42.80" height="25.80"/></clipPath>
<g clip-path="url(#lgb)" stroke="#000" stroke-width="3.45">
<line x1="330.50" y1="639.20" x2="285.50" y2="688.70"/>
<line x1="346.90" y1="639.20" x2="301.90" y2="688.70"/>
<line x1="363.30" y1="639.20" x2="318.30" y2="688.70"/>
<line x1="379.70" y1="639.20" x2="334.70" y2="688.70"/>
<line x1="396.10" y1="639.20" x2="351.10" y2="688.70"/>
<line x1="412.50" y1="639.20" x2="367.50" y2="688.70"/>
</g>
<rect x="338.40000000000003" y="642.90" width="42.80" height="25.80" fill="none" stroke="#000" stroke-width="3.2"/>
<text class="t" x="401.0" y="622.90" font-size="24.2" word-spacing="2.0" transform="translate(0 622.90) scale(1 1.06) translate(0 -622.90)">No stroma</text>
<text class="t" x="401.3" y="664.40" font-size="24.2" word-spacing="1.2" transform="translate(0 664.40) scale(1 1.06) translate(0 -664.40)">+ stroma</text>
<text class="t" transform="translate(24.0 739.60) rotate(-90) scale(1.05 1)" font-size="24" text-anchor="middle">% Annexin V+ cells</text>
</svg>
</body></html>
